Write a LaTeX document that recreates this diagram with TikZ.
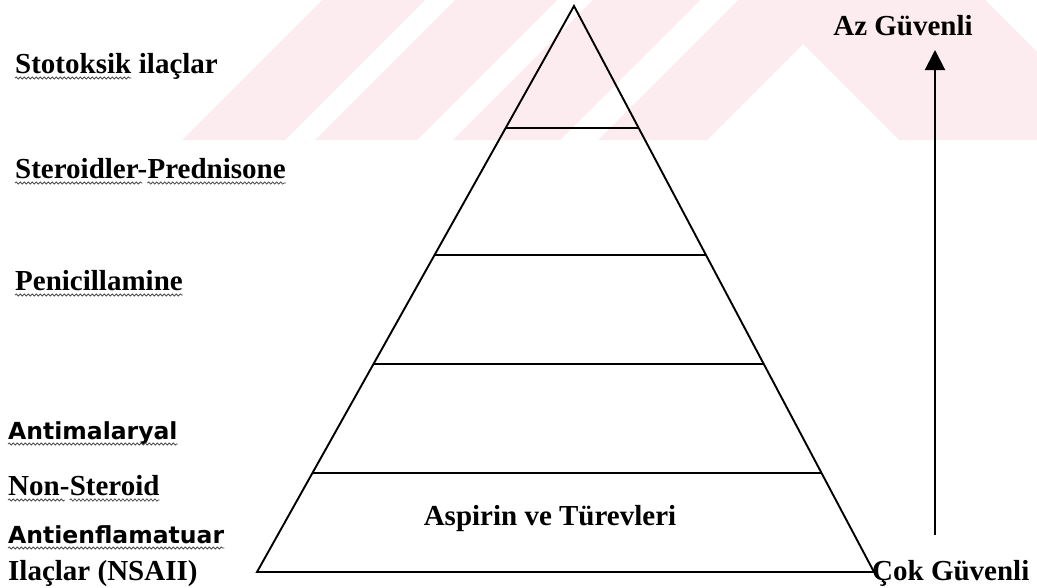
\documentclass[tikz,border=0pt]{standalone}
\usepackage{fontspec}
\setmainfont{Liberation Serif}
\newfontfamily\widesans{DejaVu Sans}
\usetikzlibrary{calc,arrows.meta,decorations.pathmorphing}
\definecolor{wmpink}{HTML}{FCEBEF}
\begin{document}
\begin{tikzpicture}[x=1pt,y=-1pt,
    lbl/.style={inner sep=0pt,anchor=base west,font=\fontsize{29}{34}\selectfont\bfseries},
    sanslbl/.style={lbl,font=\widesans\fontsize{23.5}{28}\selectfont\bfseries},
    side/.style={line width=1.9pt,line join=miter},
    level/.style={line width=2.4pt},
    squig/.style={line width=0.8pt,gray!60!black,decorate,
      decoration={snake,amplitude=1.1pt,segment length=4pt}}]
  \useasboundingbox (0,0) rectangle (1037,587);
  \begin{scope}
    \clip (0,0) rectangle (1037,140);
    \foreach \a/\b in {322/425,455/557,593/700,738/847}
      \fill[wmpink] (\a,0) -- (\b,0) -- (\b-140,140) -- (\a-140,140) -- cycle;
    \fill[wmpink] (759,0) -- (985,0) -- (1125,140) -- (899,140) -- cycle;
  \end{scope}
  \coordinate (top) at (574,6);
  \coordinate (bl) at (257,572);
  \coordinate (br) at (874,572);
  \draw[side] (bl) -- (top) -- (br) -- cycle;
  \foreach \t in {0.2155,0.44,0.6325,0.825}
    \draw[level] ($(top)!\t!(bl)$) -- ($(top)!\t!(br)$);
  \node[lbl] (stotoksik) at (15,73) {Stotoksik};
  \node[lbl] (ilac) at (stotoksik.base east) {\ ilaçlar};
  \node[lbl] (steroid) at (15,178) {Steroidler-};
  \node[lbl] (prednisone) at (steroid.base east) {Prednisone};
  \node[lbl] (penicil) at (15,290) {Penicillamine};
  \node[sanslbl] (antimal) at (8,439) {Antimalaryal};
  \node[lbl] (non) at (8,495) {Non-};
  \node[lbl] (steroidb) at (non.base east) {Steroid};
  \node[sanslbl] (antienf) at (8,543) {Antienflamatuar};
  \node[lbl] (ilaclar) at (8,580) {Ilaçlar (NSAII)};
  \foreach \n in {stotoksik,prednisone,penicil,antimal,steroidb,antienf}
    \draw[squig] ([yshift=-5pt]\n.base west) -- ([yshift=-5pt]\n.base east);
  \foreach \n in {steroid,non}
    \draw[squig] ([yshift=-5pt]\n.base west) -- ([xshift=-5pt,yshift=-5pt]\n.base east);
  \node[lbl,anchor=base] (aspirin) at (550,525) {Aspirin ve Türevleri};
  \node[lbl] (cok) at (872,580) {Çok Güvenli};
  \node[lbl,anchor=base] (az) at (903,35) {Az Güvenli};
  \coordinate (arrbot) at (935,535);
  \coordinate (arrtop) at (935,50);
  \draw[-{Triangle[width=20pt,length=20pt]},line width=2pt] (arrbot) -- (arrtop);
\end{tikzpicture}
\end{document}
